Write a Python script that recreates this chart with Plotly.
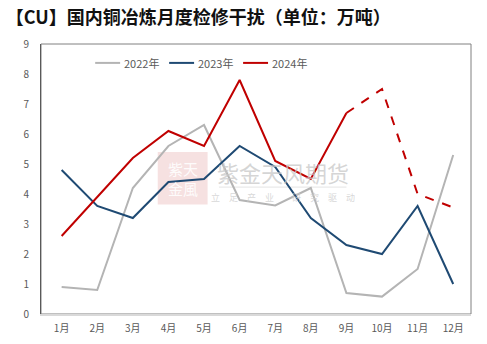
import plotly.graph_objects as go

months = ["1月", "2月", "3月", "4月", "5月", "6月", "7月", "8月", "9月", "10月", "11月", "12月"]
v2022 = [0.9, 0.8, 4.2, 5.6, 6.3, 3.8, 3.62, 4.2, 0.7, 0.58, 1.5, 5.3]
v2023 = [4.8, 3.6, 3.2, 4.4, 4.5, 5.6, 4.9, 3.2, 2.3, 2.0, 3.6, 1.0]
v2024 = [2.6, 3.9, 5.2, 6.1, 5.6, 7.8, 5.1, 4.5, 6.7, 7.5, 4.0, 3.55]
series_names = ["2022年", "2023年", "2024年"]
actual_until = 8  # 9月 onward shown as dashed (forecast)

C22, C23, C24 = "#B4B4B4", "#1F4A73", "#C00000"
colors = [C22, C23, C24]
FONT = "Noto Sans CJK SC"

fig = go.Figure()
fig.add_trace(go.Scatter(x=months, y=v2022, mode="lines", name=series_names[0],
                         line=dict(color=C22, width=2)))
fig.add_trace(go.Scatter(x=months, y=v2023, mode="lines", name=series_names[1],
                         line=dict(color=C23, width=2)))
fig.add_trace(go.Scatter(x=months[:actual_until + 1], y=v2024[:actual_until + 1],
                         mode="lines", name=series_names[2], line=dict(color=C24, width=2)))
fig.add_trace(go.Scatter(x=months[actual_until:], y=v2024[actual_until:],
                         mode="lines", name=series_names[2],
                         line=dict(color=C24, width=2, dash="dash")))

# compact legend inside the plot area
leg_y = 0.93
leg_x = [0.126, 0.298, 0.470]
for name, col, x0 in zip(series_names, colors, leg_x):
    fig.add_shape(type="line", xref="paper", yref="paper", x0=x0, x1=x0 + 0.058,
                  y0=leg_y, y1=leg_y, line=dict(color=col, width=2))
    fig.add_annotation(x=x0 + 0.063, y=leg_y, xref="paper", yref="paper", text=name,
                       showarrow=False, xanchor="left", yanchor="middle",
                       font=dict(family=FONT, size=11, color="#595959"))

# plot frame
fig.add_shape(type="rect", xref="paper", yref="paper", x0=0, x1=1, y0=0, y1=1,
              line=dict(color="#808080", width=1), layer="below")

# watermark
fig.add_shape(type="rect", xref="x", yref="y", x0=2.7, x1=4.1, y0=3.65, y1=5.4,
              line=dict(width=0), fillcolor="rgba(230,170,170,0.35)", layer="below")
fig.add_annotation(x=3.4, y=4.52, xref="x", yref="y", text="紫天<br>金風", showarrow=False,
                   font=dict(family=FONT, size=15, color="rgba(255,255,255,0.9)"))
fig.add_annotation(x=6.22, y=4.75, xref="x", yref="y", text="紫金天风期货", showarrow=False,
                   font=dict(family=FONT, size=22, color="rgba(200,200,200,0.75)"))
fig.add_shape(type="line", xref="x", yref="y", x0=4.42, x1=8.0, y0=4.23, y1=4.23,
              line=dict(color="rgba(220,220,220,0.8)", width=1), layer="below")
fig.add_annotation(x=6.22, y=3.9, xref="x", yref="y",
                   text="立　足　产　业　　研　究　驱　动",
                   showarrow=False,
                   font=dict(family=FONT, size=9, color="rgba(205,205,205,0.8)"))

fig.update_layout(
    width=487, height=344,
    margin=dict(l=41, r=16, t=44, b=30),
    paper_bgcolor="white", plot_bgcolor="white",
    font=dict(family=FONT, color="#595959"),
    showlegend=False,
    title=dict(text="<b>【CU】国内铜冶炼月度检修干扰（单位：万吨）</b>",
               x=0.012, xanchor="left", y=0.95, yanchor="middle",
               font=dict(family=FONT, size=18, color="#111111")),
    xaxis=dict(type="category", range=[-0.58, 11.5], showgrid=False,
               showline=True, linecolor="#D9D9D9", linewidth=1.5,
               ticks="", ticklabelstandoff=4, automargin=False,
               tickfont=dict(size=10, color="#595959"), fixedrange=True),
    yaxis=dict(range=[0, 9], dtick=1, showgrid=False, zeroline=False,
               showline=True, linecolor="#595959", linewidth=1,
               ticks="", ticklabelstandoff=9, automargin=False,
               tickfont=dict(size=10, color="#595959"), fixedrange=True),
)

fig.write_html("out.html")
